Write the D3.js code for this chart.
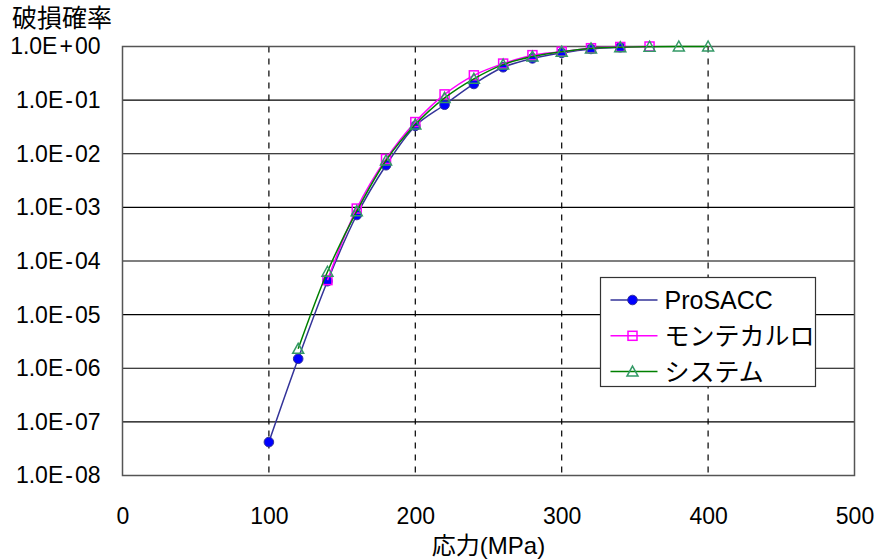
<!DOCTYPE html>
<html>
<head>
<meta charset="utf-8">
<script src="https://cdn.jsdelivr.net/npm/d3@7"></script>
<style>
  body { margin: 0; background: #fff; }
  text { font-family: "Liberation Sans", Arial, "Noto Sans CJK JP", sans-serif; fill: #000; }
</style>
</head>
<body>
<script>
'use strict';

const width = 877;
const height = 559;
const plotLeft = 122.5;
const plotRight = 854.5;
const plotTop = 46.5;
const plotBottom = 475.5;

// 応力 (MPa) and 破損確率 for each series
const prosaccX = [100, 120, 140, 160, 180, 200, 220, 240, 260, 280, 300, 320, 340];
const prosaccY = [4.2e-8, 1.5e-6, 4.2e-5, 7.2e-4, 6.1e-3, 3.3e-2, 8.2e-2, 0.2, 0.41, 0.6, 0.76, 0.9, 0.97];

const monteX = [140, 160, 180, 200, 220, 240, 260, 280, 300, 320, 340, 360];
const monteY = [4.4e-5, 9.5e-4, 8.0e-3, 3.9e-2, 0.128, 0.29, 0.48, 0.69, 0.8, 0.93, 0.98, 1.0];

const systemX = [120, 140, 160, 180, 200, 220, 240, 260, 280, 300, 320, 340, 360, 380, 400];
const systemY = [2.3e-6, 6.3e-5, 8.5e-4, 7.5e-3, 3.5e-2, 0.11, 0.25, 0.46, 0.65, 0.8, 0.92, 0.97, 0.99, 1.0, 1.0];

const xTicks = [0, 100, 200, 300, 400, 500];
const yTicks = [1e0, 1e-1, 1e-2, 1e-3, 1e-4, 1e-5, 1e-6, 1e-7, 1e-8];
const yTickLabels = ['1.0E+00', '1.0E-01', '1.0E-02', '1.0E-03', '1.0E-04', '1.0E-05', '1.0E-06', '1.0E-07', '1.0E-08'];

const seriesNames = ['ProSACC', 'モンテカルロ', 'システム'];

let series = [
    {name: seriesNames[0], xs: prosaccX, ys: prosaccY, line: '#333399', mark: 'circle', stroke: '#333399', fill: '#0000ff'},
    {name: seriesNames[1], xs: monteX, ys: monteY, line: '#ff00ff', mark: 'square', stroke: '#ff00ff', fill: 'none'},
    {name: seriesNames[2], xs: systemX, ys: systemY, line: '#008000', mark: 'triangle', stroke: '#339966', fill: 'none'}
];

let svg = d3.select('body').append('svg').attr('width', width).attr('height', height);

let xScale = d3.scaleLinear().domain([0, 500]).range([plotLeft, plotRight]);
let yScale = d3.scaleLog().domain([1e-8, 1]).range([plotBottom, plotTop]);

// horizontal grid
svg.append('g')
    .selectAll('line')
    .data(yTicks)
    .join('line')
    .attr('x1', plotLeft).attr('x2', plotRight)
    .attr('y1', d => yScale(d)).attr('y2', d => yScale(d))
    .attr('stroke', '#000').attr('stroke-width', 1.2);

// vertical dashed grid
svg.append('g')
    .selectAll('line')
    .data(xTicks.slice(1, -1))
    .join('line')
    .attr('x1', d => xScale(d)).attr('x2', d => xScale(d))
    .attr('y1', plotTop).attr('y2', plotBottom)
    .attr('stroke', '#000').attr('stroke-width', 1.2)
    .attr('stroke-dasharray', '6,6');

// frame
svg.append('rect')
    .attr('x', plotLeft).attr('y', plotTop)
    .attr('width', plotRight - plotLeft).attr('height', plotBottom - plotTop)
    .attr('fill', 'none').attr('stroke', '#555').attr('stroke-width', 1.5);

// axes (labels only)
const xAxis = d3.axisBottom(xScale).tickValues(xTicks).tickSize(0).tickPadding(32);
svg.append('g')
    .attr('class', 'x axis')
    .attr('transform', 'translate(0,' + plotBottom + ')')
    .call(xAxis)
    .call(g => g.select('.domain').remove())
    .selectAll('text').style('font-size', '23px').attr('fill', '#000');

const yAxis = d3.axisLeft(yScale).tickValues(yTicks).tickSize(0).tickPadding(22)
    .tickFormat((d, i) => yTickLabels[i]);
svg.append('g')
    .attr('class', 'y axis')
    .attr('transform', 'translate(' + plotLeft + ',0)')
    .call(yAxis)
    .call(g => g.select('.domain').remove())
    .selectAll('text')
    .style('font-size', '23px').attr('fill', '#000')
    .each(function(d, i) {
        // Excel spreads the sign a little: "1.0E - 01"
        let t = d3.select(this);
        let label = yTickLabels[i];
        t.text(null);
        t.append('tspan').text(label.slice(0, 4));
        t.append('tspan').attr('dx', 2).text(label.slice(4, 5));
        t.append('tspan').attr('dx', 2).text(label.slice(5));
    });

function drawMarker(g, type, x, y, s) {
    if (type === 'circle') {
        g.append('circle').attr('cx', x).attr('cy', y).attr('r', 4.8)
            .attr('fill', s.fill).attr('stroke', s.stroke).attr('stroke-width', 1);
    } else if (type === 'square') {
        g.append('rect').attr('x', x - 4.5).attr('y', y - 4.5).attr('width', 9).attr('height', 9)
            .attr('fill', s.fill).attr('stroke', s.stroke).attr('stroke-width', 1.5);
    } else {
        g.append('path')
            .attr('d', 'M' + x + ',' + (y - 5.5) + 'L' + (x + 5.5) + ',' + (y + 4.5) + 'L' + (x - 5.5) + ',' + (y + 4.5) + 'Z')
            .attr('fill', s.fill).attr('stroke', s.stroke).attr('stroke-width', 1.5);
    }
}

let line = d3.line()
    .x(d => xScale(d[0]))
    .y(d => yScale(d[1]))
    .curve(d3.curveCatmullRom.alpha(0.5));

for (let s of series) {
    let pts = s.xs.map((x, i) => [x, s.ys[i]]);
    let g = svg.append('g');
    g.append('path')
        .attr('d', line(pts))
        .attr('fill', 'none')
        .attr('stroke', s.line)
        .attr('stroke-width', 1.5);
    for (let p of pts) {
        drawMarker(g, s.mark, xScale(p[0]), yScale(p[1]), s);
    }
}

// legend
const legendX = 600.5;
const legendY = 277.5;
let legend = svg.append('g');
legend.append('rect')
    .attr('x', legendX).attr('y', legendY)
    .attr('width', 215).attr('height', 109)
    .attr('fill', '#fff').attr('stroke', '#333').attr('stroke-width', 1.2);

series.forEach((s, i) => {
    let cy = legendY + 22.5 + i * 35.8;
    legend.append('line')
        .attr('x1', legendX + 10).attr('x2', legendX + 57)
        .attr('y1', cy).attr('y2', cy)
        .attr('stroke', s.line).attr('stroke-width', 1.5);
    drawMarker(legend, s.mark, legendX + 32, cy, s);
    legend.append('text')
        .attr('x', legendX + 64).attr('y', cy)
        .attr('dy', '0.36em')
        .style('font-size', '25px')
        .text(s.name);
});

// axis titles
svg.append('text')
    .attr('x', 12).attr('y', 27)
    .style('font-size', '25px')
    .text('破損確率');

svg.append('text')
    .attr('x', (plotLeft + plotRight) / 2).attr('y', 554)
    .attr('text-anchor', 'middle')
    .style('font-size', '24px')
    .text('応力(MPa)');
</script>
</body>
</html>
